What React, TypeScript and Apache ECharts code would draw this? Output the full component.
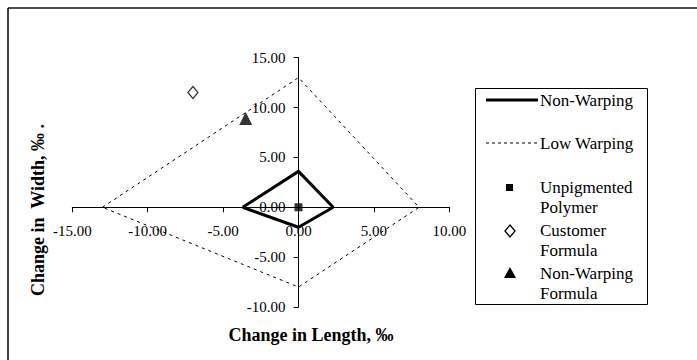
import React, { useEffect, useRef } from "react";
import * as echarts from "echarts";

const nonWarpingEnvelope: [number, number][] = [
  [-3.7, 0], [0, 3.6], [2.3, 0], [0, -2.0], [-3.7, 0],
];
const lowWarpingEnvelope: [number, number][] = [
  [-13, 0], [0, 13], [8, 0], [0, -8], [-13, 0],
];
const unpigmentedPolymer: [number, number][] = [[0, 0]];
const customerFormula: [number, number][] = [[-7.0, 11.5]];
const nonWarpingFormula: [number, number][] = [[-3.5, 8.9]];

const xRange = { min: -15, max: 10, step: 5 };
const yRange = { min: -10, max: 15, step: 5 };

const FONT = "Liberation Serif";

const GRID = { left: 72.3, right: 449.3, top: 57.7, bottom: 307 };

export default function App() {
  const ref = useRef<HTMLDivElement>(null);
  useEffect(() => {
    if (!ref.current) return;
    const chart = echarts.init(ref.current, undefined, { renderer: "svg" });
    // offsets that put each axis on the other axis's zero
    const xZeroPx = GRID.left + ((0 - xRange.min) / (xRange.max - xRange.min)) * (GRID.right - GRID.left);
    const yZeroPx = GRID.bottom - ((0 - yRange.min) / (yRange.max - yRange.min)) * (GRID.bottom - GRID.top);
    const axisCommon = {
      type: "value" as const,
      axisLine: { onZero: false, lineStyle: { color: "#000", width: 1 } },
      axisTick: { show: true, inside: false, length: 5, lineStyle: { color: "#000" } },
      splitLine: { show: false },
    };
    const labelCommon = {
      formatter: (v: number) => v.toFixed(2),
      fontSize: 15,
      fontFamily: FONT,
      color: "#000",
      showMinLabel: true,
      showMaxLabel: true,
    };
    const legendText = (text: string, y: number) => ({
      type: "text",
      x: 540,
      y,
      z: 11,
      style: { text, fontSize: 17, fontFamily: FONT, fill: "#000", verticalAlign: "middle", align: "left" },
    });
    chart.setOption({
      animation: false,
      backgroundColor: "#fff",
      textStyle: { fontFamily: FONT },
      grid: { left: GRID.left, right: 697 - GRID.right, top: GRID.top, bottom: 360 - GRID.bottom, containLabel: false },
      xAxis: {
        ...axisCommon,
        position: "bottom",
        offset: -(GRID.bottom - yZeroPx),
        min: xRange.min,
        max: xRange.max,
        interval: xRange.step,
        axisLabel: { ...labelCommon, margin: 16 },
      },
      yAxis: {
        ...axisCommon,
        position: "left",
        offset: -(xZeroPx - GRID.left),
        min: yRange.min,
        max: yRange.max,
        interval: yRange.step,
        axisLabel: { ...labelCommon, margin: 13 },
      },
      series: [
        {
          name: "Non-Warping",
          type: "line",
          data: nonWarpingEnvelope,
          symbol: "none",
          lineStyle: { color: "#000", width: 3 },
          z: 3,
        },
        {
          name: "Low Warping",
          type: "line",
          data: lowWarpingEnvelope,
          symbol: "none",
          lineStyle: { color: "#000", width: 1, type: [3, 4] },
          z: 2,
        },
        {
          name: "Unpigmented Polymer",
          type: "scatter",
          data: unpigmentedPolymer,
          symbol: "rect",
          symbolSize: 8,
          itemStyle: { color: "#000" },
          z: 4,
        },
        {
          name: "Customer Formula",
          type: "scatter",
          data: customerFormula,
          symbol: "diamond",
          symbolSize: [10, 12],
          itemStyle: { color: "#fff", borderColor: "#000", borderWidth: 1.3 },
          z: 4,
        },
        {
          name: "Non-Warping Formula",
          type: "scatter",
          data: nonWarpingFormula,
          symbol: "triangle",
          symbolSize: [13, 13],
          itemStyle: { color: "#000" },
          z: 4,
        },
      ],
      graphic: [
        { type: "line", z: 1, shape: { x1: 8, y1: 8, x2: 697, y2: 8 }, style: { stroke: "#4d4d4d", lineWidth: 2 } },
        { type: "line", z: 1, shape: { x1: 8, y1: 8, x2: 8, y2: 360 }, style: { stroke: "#000", lineWidth: 1.5 } },
        {
          type: "text",
          x: 311,
          y: 335,
          z: 5,
          style: { text: "Change in Length, ‰", fontSize: 18, fontWeight: "bold", fontFamily: FONT, fill: "#000", align: "center", verticalAlign: "middle" },
        },
        {
          type: "text",
          x: 38,
          y: 210,
          z: 5,
          rotation: Math.PI / 2,
          style: { text: "Change in  Width, ‰ .", fontSize: 18, fontWeight: "bold", fontFamily: FONT, fill: "#000", align: "center", verticalAlign: "middle" },
        },
        {
          type: "rect",
          z: 10,
          shape: { x: 475.5, y: 88.5, width: 172, height: 216 },
          style: { fill: "#fff", stroke: "#000", lineWidth: 1 },
        },
        { type: "line", z: 11, shape: { x1: 486, y1: 100, x2: 538, y2: 100 }, style: { stroke: "#000", lineWidth: 3 } },
        legendText("Non-Warping", 100),
        { type: "line", z: 11, shape: { x1: 486, y1: 143, x2: 538, y2: 143 }, style: { stroke: "#000", lineWidth: 1.2, lineDash: [3, 3] } },
        legendText("Low Warping", 143),
        { type: "rect", z: 11, shape: { x: 506, y: 184, width: 7, height: 7 }, style: { fill: "#000" } },
        legendText("Unpigmented", 187),
        legendText("Polymer", 207),
        { type: "polygon", z: 11, shape: { points: [[510, 225], [515, 231], [510, 237], [505, 231]] }, style: { fill: "#fff", stroke: "#000", lineWidth: 1.3 } },
        legendText("Customer", 230),
        legendText("Formula", 250),
        { type: "polygon", z: 11, shape: { points: [[510, 267], [516, 278], [504, 278]] }, style: { fill: "#000" } },
        legendText("Non-Warping", 273),
        legendText("Formula", 293),
      ],
    });
    return () => chart.dispose();
  }, []);
  return (
    <div
      ref={ref}
      style={{ position: "fixed", left: 0, top: 0, width: 697, height: 360, background: "#fff" }}
    />
  );
}
